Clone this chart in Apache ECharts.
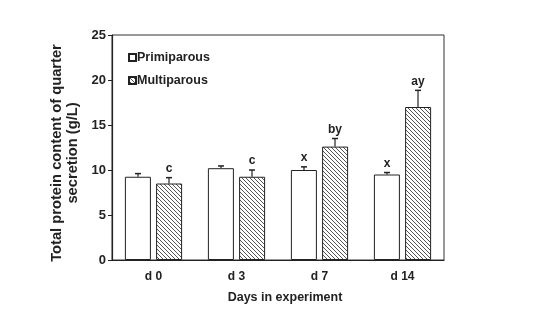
<!DOCTYPE html>
<html><head><meta charset="utf-8">
<script src="https://cdn.jsdelivr.net/npm/echarts@6/dist/echarts.min.js"></script>
<style>html,body{margin:0;padding:0;background:#fff}#c{width:541px;height:333px}</style>
</head><body><div id="c"></div>
<script>
const categories = ['d 0', 'd 3', 'd 7', 'd 14'];
const primiparous = [9.25, 10.2, 10.0, 9.5];
const primiparousErr = [0.35, 0.25, 0.35, 0.22];
const primiparousLetters = ['', '', 'x', 'x'];
const multiparous = [8.5, 9.25, 12.6, 17.0];
const multiparousErr = [0.65, 0.75, 0.9, 1.85];
const multiparousLetters = ['c', 'c', 'by', 'ay'];
const yTicks = [0, 5, 10, 15, 20, 25];

function hatch() {
  const c = document.createElement('canvas');
  c.width = 4; c.height = 4;
  const g = c.getContext('2d');
  g.fillStyle = '#ffffff'; g.fillRect(0, 0, 4, 4);
  g.strokeStyle = '#555'; g.lineWidth = 1;
  g.beginPath();
  g.moveTo(-1, -1); g.lineTo(5, 5);
  g.moveTo(-1, 3); g.lineTo(1, 5);
  g.moveTo(3, -1); g.lineTo(5, 1);
  g.stroke();
  return c;
}
const FONT = '"Liberation Sans", Arial, sans-serif';
const BAR_W = 26, OFF = 15.5;

function errData(vals, errs) {
  return vals.map((v, i) => [i, v, errs[i]]);
}
function errRender(offset, letters) {
  return function (params, api) {
    const i = api.value(0), v = api.value(1), e = api.value(2);
    const lbl = letters[params.dataIndex] || '';
    const p0 = api.coord([i, v]);
    const p1 = api.coord([i, v + e]);
    const x = p0[0] + offset;
    return {
      type: 'group',
      children: [
        { type: 'line', shape: { x1: x, y1: p0[1], x2: x, y2: p1[1] }, style: { stroke: '#222', lineWidth: 1.2 } },
        { type: 'line', shape: { x1: x - 3, y1: p1[1], x2: x + 3, y2: p1[1] }, style: { stroke: '#222', lineWidth: 1.5 } },
        { type: 'text', style: { text: lbl, x: x, y: p1[1] - 3, align: 'center', verticalAlign: 'bottom', font: 'bold 12px ' + FONT, fill: '#222' } }
      ]
    };
  };
}

const chart = echarts.init(document.getElementById('c'), null, { renderer: 'canvas' });
chart.setOption({
  animation: false,
  backgroundColor: '#fff',
  grid: { left: 112, right: 97, top: 35, bottom: 73, show: true, borderColor: '#333', borderWidth: 1 },
  legend: {
    orient: 'vertical', left: 123, top: 45, itemGap: 8,
    icon: 'rect', itemWidth: 7, itemHeight: 7,
    textStyle: { fontFamily: FONT, fontWeight: 'bold', fontSize: 12.5, lineHeight: 15, color: '#222', padding: [0, 0, 0, -4] },
    data: ['Primiparous', 'Multiparous']
  },
  xAxis: {
    type: 'category', data: categories,
    axisLine: { lineStyle: { color: '#222', width: 1.2 } },
    axisTick: { alignWithLabel: true, length: 3, lineStyle: { color: '#222' } },
    axisLabel: { fontFamily: FONT, fontWeight: 'bold', fontSize: 12, color: '#222', margin: 11 },
    name: 'Days in experiment', nameLocation: 'middle', nameGap: 31,
    nameTextStyle: { fontFamily: FONT, fontWeight: 'bold', fontSize: 12.5, color: '#222', padding: [0, 0, 0, 14] }
  },
  yAxis: {
    type: 'value', min: yTicks[0], max: yTicks[yTicks.length - 1], interval: 5,
    splitLine: { show: false },
    axisLine: { show: true, lineStyle: { color: '#222', width: 1.2 } },
    axisTick: { show: true, length: 4, lineStyle: { color: '#222' } },
    axisLabel: { fontFamily: FONT, fontWeight: 'bold', fontSize: 13, color: '#222', margin: 6 },
    name: 'Total protein content of quarter\nsecretion (g/L)', nameLocation: 'middle', nameRotate: 90, nameGap: 24,
    nameTextStyle: { fontFamily: FONT, fontWeight: 'bold', fontSize: 14.7, color: '#222', lineHeight: 16, padding: [0, 11, 0, 0] }
  },
  series: [
    { name: 'Primiparous', type: 'bar', data: primiparous, barWidth: BAR_W, barGap: '20%',
      itemStyle: { color: '#fff', borderColor: '#222', borderWidth: 1 } },
    { name: 'Multiparous', type: 'bar', data: multiparous, barWidth: BAR_W,
      itemStyle: { color: { image: hatch(), repeat: 'repeat' }, borderColor: '#222', borderWidth: 1 } },
    { type: 'custom', data: errData(primiparous, primiparousErr), renderItem: errRender(-OFF, primiparousLetters), z: 5 },
    { type: 'custom', data: errData(multiparous, multiparousErr), renderItem: errRender(OFF, multiparousLetters), z: 5 }
  ]
});
</script></body></html>
